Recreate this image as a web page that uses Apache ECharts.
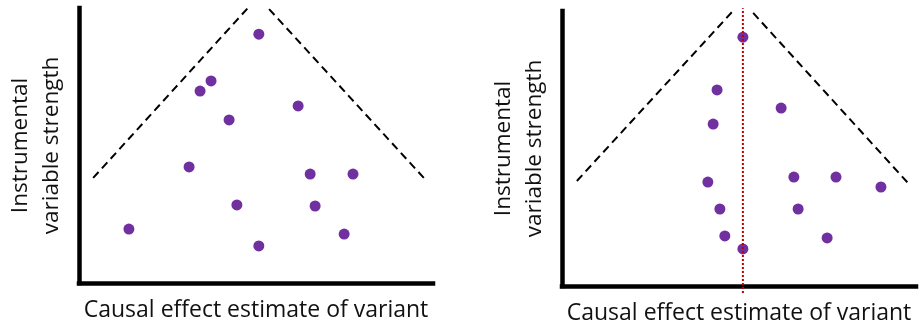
<!DOCTYPE html>
<html>
<head>
<meta charset="utf-8">
<script src="https://cdn.jsdelivr.net/npm/echarts@6/dist/echarts.min.js"></script>
<style>
html,body{margin:0;padding:0;background:#fff;}
#c{width:919px;height:331px;}
</style>
</head>
<body>
<div id="c"></div>
<script>
// Axis titles
const xTitle = 'Causal effect estimate of variant';
const yTitle = 'Instrumental\nvariable strength';

// Left panel: variant estimates [effect, strength]
const leftPoints = [
  [5.08, 9.05], [3.73, 7.35], [3.42, 6.98], [6.19, 6.44], [4.24, 5.93],
  [3.11, 4.22], [6.53, 3.96], [7.74, 3.96], [4.46, 2.84], [6.67, 2.80],
  [1.41, 1.96], [7.49, 1.78], [5.08, 1.35]
];
// Left panel funnel boundaries
const leftFunnelL = [[0.40, 3.82], [4.77, 10.0]];
const leftFunnelR = [[5.37, 9.96], [9.77, 3.78]];

// Right panel: variant estimates [effect, strength]
const rightPoints = [
  [5.11, 9.05], [4.38, 7.13], [6.19, 6.47], [4.27, 5.89], [4.12, 3.78],
  [6.55, 3.96], [7.74, 3.96], [9.01, 3.60], [4.46, 2.80], [6.67, 2.80],
  [4.60, 1.82], [7.49, 1.75], [5.11, 1.35]
];
// Right panel funnel boundaries
const rightFunnelL = [[0.42, 3.82], [4.80, 9.96]];
const rightFunnelR = [[5.40, 9.93], [9.77, 3.75]];
// Right panel vertical reference (red dotted)
const rightRef = [[5.11, -0.25], [5.11, 10.1]];

const FONT = '"Open Sans", "Liberation Sans", sans-serif';
const axisLine = {show: true, onZero: false, lineStyle: {color: '#000', width: 4.5, cap: 'square'}};

function xAx(gi) {
  return {
    type: 'value', gridIndex: gi, min: 0, max: 10,
    axisLine: axisLine, axisTick: {show: false}, axisLabel: {show: false}, splitLine: {show: false},
    name: xTitle, nameLocation: 'middle', nameGap: 16,
    nameTextStyle: {color: '#111', fontSize: 23, fontFamily: FONT}
  };
}
function yAx(gi) {
  return {
    type: 'value', gridIndex: gi, min: 0, max: 10,
    axisLine: axisLine, axisTick: {show: false}, axisLabel: {show: false}, splitLine: {show: false},
    name: yTitle, nameLocation: 'middle', nameGap: 12, nameRotate: 90,
    nameTextStyle: {color: '#111', fontSize: 22.5, fontFamily: FONT, lineHeight: 31}
  };
}
function dashed(data, gi) {
  return {
    type: 'line', xAxisIndex: gi, yAxisIndex: gi, data: data, symbol: 'none', silent: true, clip: false,
    lineStyle: {color: '#000', width: 2, type: [8, 5]}, z: 2
  };
}
function dots(data, gi) {
  return {
    type: 'scatter', xAxisIndex: gi, yAxisIndex: gi, data: data, symbolSize: 11,
    itemStyle: {color: '#7030A0', opacity: 1}, z: 3
  };
}

const chart = echarts.init(document.getElementById('c'), null, {renderer: 'canvas'});
chart.setOption({
  animation: false,
  backgroundColor: '#fff',
  grid: [
    {left: 79, top: 8, width: 354, height: 275},
    {left: 562, top: 11, width: 354, height: 275}
  ],
  xAxis: [xAx(0), xAx(1)],
  yAxis: [yAx(0), yAx(1)],
  series: [
    dashed(leftFunnelL, 0), dashed(leftFunnelR, 0), dots(leftPoints, 0),
    dashed(rightFunnelL, 1), dashed(rightFunnelR, 1), dots(rightPoints, 1),
    {
      type: 'line', xAxisIndex: 1, yAxisIndex: 1, data: rightRef, symbol: 'none', silent: true, clip: false,
      lineStyle: {color: '#C00000', width: 2, type: [2, 2]}, z: 4
    }
  ]
});
</script>
</body>
</html>
